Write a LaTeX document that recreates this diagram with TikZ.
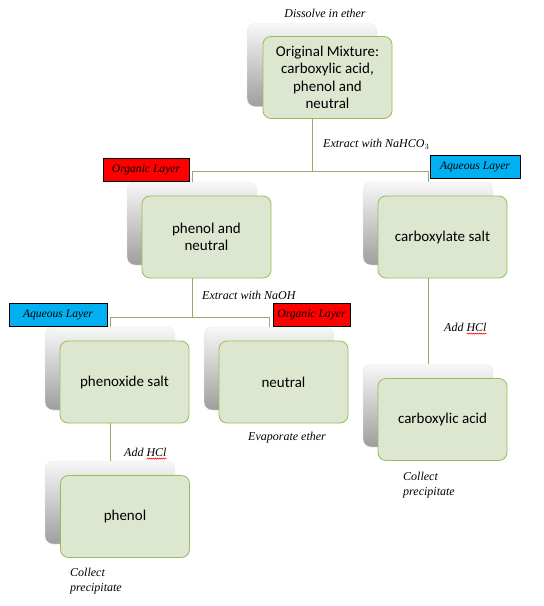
\documentclass[tikz,border=0pt]{standalone}
\usepackage{fontspec}
\setmainfont{Liberation Serif}
\newfontfamily\boxfont{Carlito}
\usetikzlibrary{decorations.pathmorphing,calc}
\definecolor{boxfill}{RGB}{221,231,208}
\definecolor{boxline}{RGB}{155,187,89}
\definecolor{connc}{RGB}{150,170,110}
\definecolor{aq}{RGB}{0,176,240}
\begin{document}
\begin{tikzpicture}[x=1pt,y=-1pt,
 back/.style={rounded corners=8pt, minimum width=130pt, minimum height=83pt, top color=black!3, bottom color=black!38, draw=black!8, inner sep=0},
 front/.style={rounded corners=8pt, minimum width=129pt, minimum height=82pt, fill=boxfill, draw=boxline, line width=0.8pt, font=\boxfont\fontsize{15}{17.5}\selectfont, align=center, inner sep=0},
 conn/.style={draw=connc, line width=0.9pt},
 note/.style={font=\itshape\fontsize{12}{14.5}\selectfont, inner sep=0, align=left},
 layer/.style={draw=black, line width=0.6pt, font=\itshape\fontsize{11.6}{13}\selectfont, inner sep=0, minimum height=23pt},
 squig/.style={draw=red, line width=0.5pt, decorate, decoration={snake, amplitude=0.6pt, segment length=2pt}},
]
\useasboundingbox (0,0) rectangle (544,606);

% back boxes
\node[back] (ob) at (312,65) {};
\node[back] (pnb) at (192,223.5) {};
\node[back] (csb) at (428,223.5) {};
\node[back] (pxb) at (110,368.5) {};
\node[back] (ntb) at (269,368.5) {};
\node[back] (cab) at (428,405.5) {};
\node[back] (phb) at (110,502.5) {};

% connectors
\coordinate (j1) at (312,171);
\coordinate (j2) at (192,317);
\draw[conn] (ob.south) -- (j1);
\draw[conn] (j1) -| (pnb.north);
\draw[conn] (j1) -| (csb.north);
\draw[conn] (pnb.south) -- (j2);
\draw[conn] (j2) -| (pxb.north);
\draw[conn] (j2) -| (ntb.north);
\draw[conn] (csb.south) -- (cab.north);
\draw[conn] (pxb.south) -- (phb.north);

% front boxes
\node[front] (orig) at (327.5,77.5) {Original Mixture:\\carboxylic acid,\\phenol and\\neutral};
\node[front] (pn) at (206.5,237) {phenol and\\neutral};
\node[front] (cs) at (442.5,237) {carboxylate salt};
\node[front] (px) at (124.5,382) {phenoxide salt};
\node[front] (nt) at (283.5,382) {neutral};
\node[front] (ca) at (442.5,419.5) {carboxylic acid};
\node[front] (ph) at (125,516.5) {phenol};

% layer labels
\node[layer, fill=red, minimum width=86pt] (ol1) at (146,170) {Organic Layer};
\node[layer, fill=aq, minimum width=90pt] (al1) at (475,166.5) {Aqueous Layer};
\node[layer, fill=aq, minimum width=98pt] (al2) at (58,314.5) {Aqueous Layer};
\node[layer, fill=red, minimum width=77pt] (ol2) at (311.5,314.5) {Organic Layer};

% notes
\node[note] (n1) at (325,13) {Dissolve in ether};
\node[note, anchor=west] (n2) at (323,144) {Extract with NaHCO$_3$};
\node[note, anchor=west] (n3) at (202,295) {Extract with NaOH};
\node[note, anchor=west] (n4) at (444,327) {Add HCl};
\node[note, anchor=west] (n5) at (124,452) {Add HCl};
\node[note, anchor=west] (n6) at (248,438) {Evaporate ether};
\node[note, anchor=north west] (n7) at (403,472) {Collect\\precipitate};
\node[note, anchor=north west] (n8) at (70,568) {Collect\\precipitate};

\draw[squig] ($(n4.base east)+(-20,2.5)$) -- ($(n4.base east)+(0,2.5)$);
\draw[squig] ($(n5.base east)+(-20,2.5)$) -- ($(n5.base east)+(0,2.5)$);
\end{tikzpicture}
\end{document}
